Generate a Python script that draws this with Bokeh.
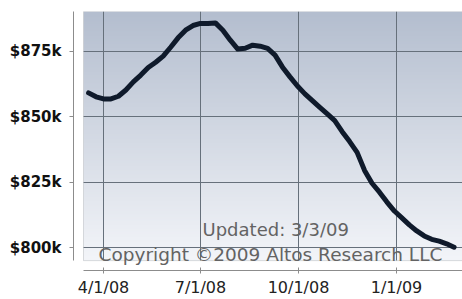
import numpy as np
import pandas as pd
from bokeh.plotting import figure
from bokeh.models import FixedTicker, Label, BoxAnnotation, Range1d
from bokeh.embed import file_html
from bokeh.resources import INLINE

# ---- data (median price, $ thousands, weekly) ----
week_start = "2008-03-18"
prices_k = [859.1, 857.6, 856.8, 856.8, 857.8, 860.2, 863.3, 865.9, 868.8, 870.8,
            873.1, 876.5, 880.1, 883.0, 884.8, 885.6, 885.6, 885.8, 883.0, 879.2,
            875.8, 876.1, 877.3, 876.9, 876.1, 873.5, 868.9, 865.2, 861.7, 858.7,
            856.1, 853.6, 851.1, 848.5, 844.3, 840.5, 836.4, 829.5, 824.6, 821.2,
            817.4, 814.0, 811.4, 808.7, 806.4, 804.5, 803.2, 802.5, 801.5, 800.2]
dates = pd.date_range(week_start, periods=len(prices_k), freq="7D")

x_tick_dates = ["2008-04-01", "2008-07-01", "2008-10-01", "2009-01-01"]
x_tick_labels = ["4/1/08", "7/1/08", "10/1/08", "1/1/09"]
y_ticks = [800, 825, 850, 875]
y_tick_labels = ["$800k", "$825k", "$850k", "$875k"]
updated_text = "Updated: 3/3/09"
copyright_text = "Copyright \u00a92009 Altos Research LLC"


def ms(d):
    return pd.Timestamp(d).value / 1e6


x_start, x_end = ms("2008-03-03 20:00"), ms("2009-03-03 22:00")
x_inner = ms("2008-03-13 05:30")
y_lo, y_hi = 791.3, 890.15
y_inner = 795.07

p = figure(width=462, height=299, x_axis_type="datetime",
           x_range=Range1d(x_start, x_end), y_range=Range1d(y_lo, y_hi),
           output_backend="svg", toolbar_location=None,
           min_border_left=73, min_border_right=0, min_border_top=11,
           min_border_bottom=27)
p.outline_line_color = None
p.background_fill_color = "white"
p.border_fill_color = "white"

# gradient background of the inner box
ny = 200
top_c = np.array([180, 190, 207], dtype=float)
bot_c = np.array([243, 245, 249], dtype=float)
img = np.empty((ny, 2), dtype=np.uint32)
view = img.view(dtype=np.uint8).reshape((ny, 2, 4))
for i in range(ny):
    c = bot_c + (top_c - bot_c) * i / (ny - 1)
    view[i, :, 0] = int(c[0]); view[i, :, 1] = int(c[1]); view[i, :, 2] = int(c[2]); view[i, :, 3] = 255
p.image_rgba(image=[img], x=x_inner, y=y_inner, dw=x_end - x_inner, dh=y_hi - y_inner, level="image")

x_ticks_ms = [ms(d) for d in x_tick_dates]
p.xgrid.ticker = FixedTicker(ticks=x_ticks_ms)
p.ygrid.ticker = FixedTicker(ticks=y_ticks)
for g in (p.xgrid, p.ygrid):
    g.grid_line_color = "#66707b"
    g.grid_line_alpha = 1.0
    g.grid_line_width = 1

# mask grid lines outside inner box
p.add_layout(BoxAnnotation(right=x_inner, fill_color="white", fill_alpha=1, line_color=None, level="underlay"))
p.add_layout(BoxAnnotation(top=y_inner, fill_color="white", fill_alpha=1, line_color=None, level="underlay"))
p.add_layout(BoxAnnotation(left=x_inner, bottom=y_inner, fill_alpha=0, line_color="#7d858f", line_width=1, level="underlay"))

# axes
xa = p.xaxis[0]
xa.ticker = FixedTicker(ticks=x_ticks_ms)
xa.major_label_overrides = {t: l for t, l in zip(x_ticks_ms, x_tick_labels)}
xa.bounds = (x_inner, x_end)
xa.axis_line_color = "#8c8c8c"
xa.major_tick_line_color = "#8c8c8c"
xa.major_tick_in = 3
xa.major_tick_out = 3
xa.minor_tick_line_color = None
xa.major_label_text_font = "DejaVu Sans"
xa.major_label_text_font_size = "16px"
xa.major_label_text_color = "#222222"
xa.major_label_standoff = 4

ya = p.yaxis[0]
ya.ticker = FixedTicker(ticks=y_ticks)
ya.major_label_overrides = {t: l for t, l in zip(y_ticks, y_tick_labels)}
ya.bounds = (y_inner, y_hi)
ya.axis_line_color = "#8c8c8c"
ya.major_tick_line_color = "#8c8c8c"
ya.major_tick_in = 0
ya.major_tick_out = 4
ya.minor_tick_line_color = None
ya.major_label_text_font = "DejaVu Sans"
ya.major_label_text_font_style = "bold"
ya.major_label_text_font_size = "15px"
ya.major_label_text_color = "#111111"
ya.major_label_standoff = 8

p.line(dates, prices_k, line_color="#0f1a2b", line_width=5, line_join="round", line_cap="round")

p.add_layout(Label(x=ms("2008-07-02 22:00"), y=806.8, text=updated_text,
                   text_font="DejaVu Sans", text_font_size="18px", text_color="#636363",
                   text_baseline="alphabetic"))
p.add_layout(Label(x=ms("2008-03-27 07:00"), y=797.35, text=copyright_text,
                   text_font="DejaVu Sans", text_font_size="18.5px", text_color="#636363",
                   text_baseline="alphabetic"))

open("out.html", "w").write(file_html(p, INLINE))
